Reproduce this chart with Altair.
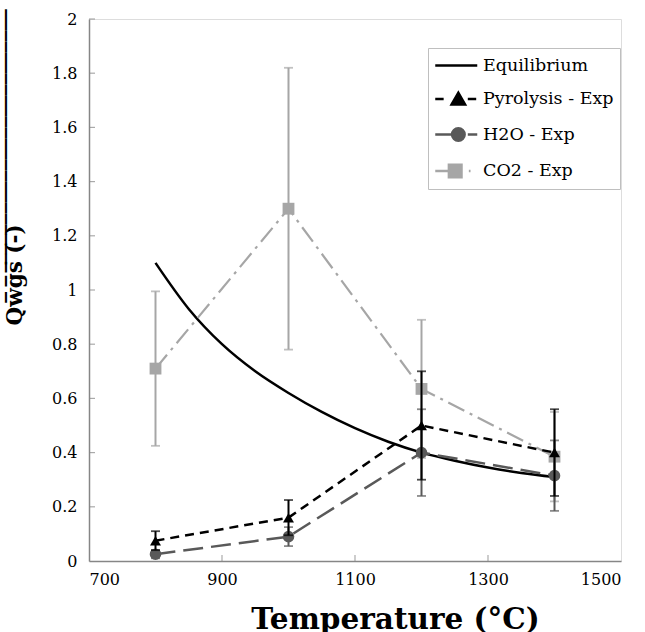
import altair as alt
import pandas as pd

# ---------------- data ----------------
series_names = ["Equilibrium", "Pyrolysis - Exp", "H2O - Exp", "CO2 - Exp"]

temps_eq = [800, 850, 900, 950, 1000, 1050, 1100, 1150, 1200, 1250, 1300, 1350, 1400]
q_eq = [1.10, 0.93, 0.80, 0.70, 0.62, 0.55, 0.49, 0.44, 0.40, 0.37, 0.345, 0.325, 0.31]

temps_exp = [800, 1000, 1200, 1400]
q_pyro = [0.075, 0.16, 0.50, 0.40]
err_pyro = [0.035, 0.065, 0.20, 0.16]
q_h2o = [0.025, 0.09, 0.40, 0.315]
err_h2o = [0.015, 0.035, 0.16, 0.13]
q_co2 = [0.71, 1.30, 0.635, 0.385]
err_co2 = [0.285, 0.52, 0.255, 0.165]

x_tick_labels = [700, 900, 1100, 1300, 1500]
x_inner_ticks = [900, 1100, 1300]
y_tick_labels = [0, 0.2, 0.4, 0.6, 0.8, 1, 1.2, 1.4, 1.6, 1.8, 2]
y_inner_ticks = [0.2, 0.4, 0.6, 0.8, 1, 1.2, 1.4, 1.6, 1.8, 2]

# ---------------- styles ----------------
AXIS_GRAY = "#868686"
FONT = "DejaVu Serif"
colors = {"Equilibrium": "#000000", "Pyrolysis - Exp": "#000000",
          "H2O - Exp": "#595959", "CO2 - Exp": "#a6a6a6"}
dashes = {"Pyrolysis - Exp": [9, 6], "H2O - Exp": [20, 8], "CO2 - Exp": [18, 6, 3, 6]}
shapes = {"Pyrolysis - Exp": "triangle-up", "H2O - Exp": "circle", "CO2 - Exp": "square"}
sizes = {"Pyrolysis - Exp": 120, "H2O - Exp": 135, "CO2 - Exp": 140}
legend_paths = [
    "M-1.025,0L3.175,0",
    "M-1.025,0L-0.185,0M0.613,0.546L1.285,-0.63L1.957,0.546ZM2.23,0L3.07,0",
    "M-1.025,0L0.655,0M0.655,0A0.63,0.63,0,1,1,1.915,0A0.63,0.63,0,1,1,0.655,0ZM2.23,0L3.175,0",
    "M-1.025,0L0.34,0M0.34,-0.63L1.6,-0.63L1.6,0.63L0.34,0.63ZM2.335,0L2.503,0",
]

eq_df = pd.DataFrame({"T": temps_eq, "Q": q_eq})
exp_frames = []
for name, qs, es in [("Pyrolysis - Exp", q_pyro, err_pyro),
                     ("H2O - Exp", q_h2o, err_h2o),
                     ("CO2 - Exp", q_co2, err_co2)]:
    exp_frames.append(pd.DataFrame({
        "series": name, "T": temps_exp, "Q": qs,
        "lo": [q - e for q, e in zip(qs, es)],
        "hi": [q + e for q, e in zip(qs, es)],
    }))
exp_df = pd.concat(exp_frames, ignore_index=True)

x_scale = alt.Scale(domain=[700, 1500], nice=False, zero=False)
y_scale = alt.Scale(domain=[0, 2], nice=False)

x_axis = alt.Axis(values=x_tick_labels, format="d", ticks=False, grid=False,
                  domainColor=AXIS_GRAY, domainWidth=1.5, labelFont=FONT,
                  labelFontSize=16, labelColor="black", labelPadding=10,
                  title="Temperature (°C)", titleFont=FONT, titleFontSize=29.5,
                  titleFontWeight="bold", titleColor="black",
                  titleX=306, titleY=67, titleBaseline="alphabetic",
                  titleAlign="center")
ylabel = "Q" + "".join(c + "\u0305" for c in "wgs\u00a0(-)") + ("\u203e" * 20)
y_axis = alt.Axis(values=y_tick_labels, format="~g", ticks=False, grid=False,
                  domainColor=AXIS_GRAY, domainWidth=1.5, labelFont=FONT,
                  labelFontSize=16, labelColor="black", labelPadding=12,
                  title=ylabel, titleFont=FONT, titleFontSize=21.5,
                  titleFontWeight="bold", titleColor="black", titleAngle=270,
                  titleAlign="left", titleBaseline="alphabetic", titleX=-68, titleY=306)

eq_line = alt.Chart(eq_df).mark_line(color="black", strokeWidth=2.5,
                                     interpolate="monotone").encode(
    x=alt.X("T:Q", scale=x_scale, axis=x_axis),
    y=alt.Y("Q:Q", scale=y_scale, axis=y_axis),
)

layers = [eq_line]
for name in ["CO2 - Exp", "H2O - Exp", "Pyrolysis - Exp"]:
    b = alt.Chart(exp_df).transform_filter(alt.datum.series == name)
    col = colors[name]
    layers.append(b.mark_rule(color=col, strokeWidth=2).encode(
        x="T:Q", y="lo:Q", y2="hi:Q"))
    layers.append(b.mark_tick(color=col, orient="horizontal", size=9, thickness=1.8).encode(
        x="T:Q", y="lo:Q"))
    layers.append(b.mark_tick(color=col, orient="horizontal", size=9, thickness=1.8).encode(
        x="T:Q", y="hi:Q"))
    layers.append(b.mark_line(color=col, strokeWidth=2.5 if name != "CO2 - Exp" else 2.2,
                              strokeDash=dashes[name]).encode(x="T:Q", y="Q:Q"))
    layers.append(b.mark_point(color=col, filled=True, opacity=1, shape=shapes[name],
                               size=sizes[name]).encode(x="T:Q", y="Q:Q"))

# inner axis ticks
xt_df = pd.DataFrame({"T": x_inner_ticks, "Q": [0] * len(x_inner_ticks)})
yt_df = pd.DataFrame({"T": [700] * len(y_inner_ticks), "Q": y_inner_ticks})
layers.append(alt.Chart(xt_df).mark_tick(color=AXIS_GRAY, orient="vertical", size=6,
                                         thickness=1.2, yOffset=-3).encode(x="T:Q", y="Q:Q"))
layers.append(alt.Chart(yt_df).mark_tick(color=AXIS_GRAY, orient="horizontal", size=6,
                                         thickness=1.2, xOffset=3).encode(x="T:Q", y="Q:Q"))

# legend carrier
leg = alt.Legend(title=None, orient="none", legendX=339, legendY=29, labelFont=FONT,
                 labelFontSize=17.5, labelColor="black", symbolSize=400,
                 symbolStrokeWidth=2.5, symbolOpacity=1, strokeColor="#bfbfbf",
                 fillColor="white", padding=6, rowPadding=13.5, labelOffset=26,
                 labelLimit=300)
leg_df = pd.DataFrame({"series": series_names})
col_scale = alt.Scale(domain=series_names, range=[colors[n] for n in series_names])
legend_layer = alt.Chart(leg_df).mark_point(opacity=0).encode(
    fill=alt.Fill("series:N", scale=col_scale, legend=leg),
    stroke=alt.Stroke("series:N", scale=col_scale, legend=leg),
    shape=alt.Shape("series:N", scale=alt.Scale(domain=series_names, range=legend_paths),
                    legend=leg),
)
layers.append(legend_layer)

chart = alt.layer(*layers).properties(
    width=532, height=542, autosize="none",
    padding={"left": 89, "top": 19, "right": 24, "bottom": 71},
).configure_view(stroke=None).configure(background="white")

chart.save("out.html", embed_options={"renderer": "svg", "actions": False})
